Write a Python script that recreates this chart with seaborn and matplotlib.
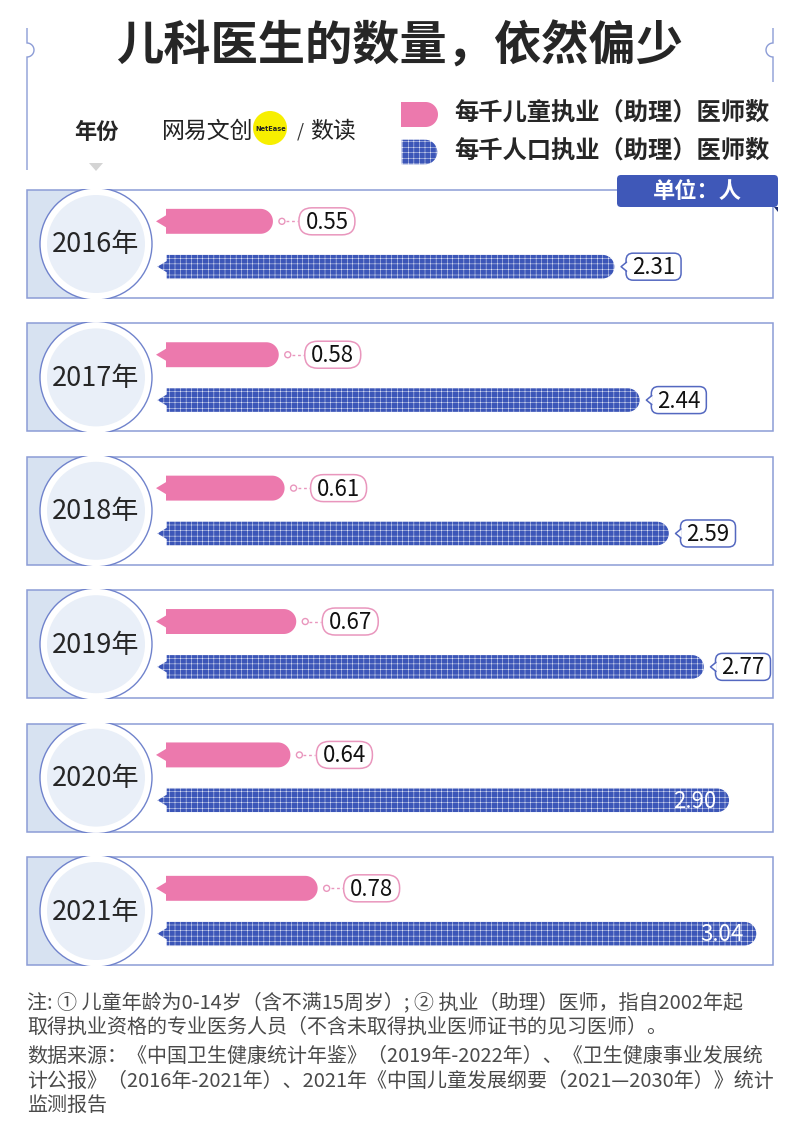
import numpy as np
import pandas as pd
import matplotlib.pyplot as plt
import seaborn as sns
from matplotlib.patches import Polygon, Rectangle, Circle, FancyBboxPatch, PathPatch
from matplotlib.path import Path


years = ['2016年', '2017年', '2018年', '2019年', '2020年', '2021年']
child_doctors = [0.55, 0.58, 0.61, 0.67, 0.64, 0.78]
all_doctors = [2.31, 2.44, 2.59, 2.77, 2.90, 3.04]
series_names = ['每千儿童执业（助理）医师数', '每千人口执业（助理）医师数']

title = '儿科医生的数量，依然偏少'
unit_text = '单位：人'
notes = ['注: ① 儿童年龄为0-14岁（含不满15周岁）; ② 执业（助理）医师，指自2002年起',
         '取得执业资格的专业医务人员（不含未取得执业医师证书的见习医师）。',
         '数据来源：《中国卫生健康统计年鉴》（2019年-2022年）、《卫生健康事业发展统',
         '计公报》（2016年-2021年）、2021年《中国儿童发展纲要（2021—2030年）》统计',
         '监测报告']
note_y = [1003, 1027, 1056, 1081, 1105]

sns.set_style('white')
plt.rcParams['font.family'] = ['Noto Sans CJK SC', 'DejaVu Sans']
plt.rcParams['hatch.color'] = '#8094e0'
plt.rcParams['hatch.linewidth'] = 0.3

PINK = '#ec79ad'
PINK_EDGE = '#e996bd'
BLUE = '#3c56b8'
BLUE_EDGE = '#5468c0'
LINE = '#8c9cd6'

fig = plt.figure(figsize=(8, 11.4), dpi=100)
bg = fig.add_axes([0, 0, 1, 1])
bg.set_xlim(0, 800)
bg.set_ylim(1140, 0)
bg.axis('off')

# bar axes: value 0 at x=166px, 1 unit = 194.4px, one year per 133.4px
x0_px, unit_px, xmax = 166, 194.4, 3.2
top_px, step_px = 177.3, 133.4
ax = fig.add_axes([x0_px / 800, 1 - (top_px + 6 * step_px) / 1140,
                   xmax * unit_px / 800, 6 * step_px / 1140])
ax.patch.set_alpha(0)

df = pd.DataFrame({'year': years * 2,
                   'value': child_doctors + all_doctors,
                   'series': [series_names[0]] * 6 + [series_names[1]] * 6})
sns.barplot(data=df, x='value', y='year', hue='series', orient='h',
            palette=[PINK, BLUE], width=0.68, gap=0.45, errorbar=None,
            legend=False, ax=ax)
ax.set_xlim(0, xmax)
ax.set_ylim(5.5, -0.5)
ax.axis('off')


def to_px(x, y):
    return bg.transData.inverted().transform(ax.transData.transform((x, y)))


def bar_shape(x0, x1, y0, y1, pointer=True):
    r = (y1 - y0) / 2
    yc = (y0 + y1) / 2
    t = np.linspace(-np.pi / 2, np.pi / 2, 40)
    pts = [(x0, y0)] + [(x1 - r + r * np.cos(a), yc + r * np.sin(a)) for a in t] + [(x0, y1)]
    if pointer:
        pts += [(x0, yc + 6), (x0 - 10, yc), (x0, yc - 6)]
    return pts


# title and side brackets
bg.text(400, 47, title, ha='center', va='center', fontsize=34, fontweight='bold')
for xs, sgn, ybot in [(27, 1, 170), (773, -1, 82)]:
    verts = [(xs, 28), (xs, 43)]
    t = np.linspace(-np.pi / 2, np.pi / 2, 20)
    verts += [(xs + sgn * 7 * np.cos(a), 50 + 7 * np.sin(a)) for a in t]
    verts += [(xs, 57), (xs, ybot)]
    bg.add_patch(PathPatch(Path(verts), fc='none', ec=LINE, lw=1.0))

# header: year label + logo
bg.text(96, 132, '年份', ha='center', va='center', fontsize=16, fontweight='bold')
bg.add_patch(Polygon([(89, 163), (103, 163), (96, 171)], fc='#d4d4d4', ec='none'))
bg.text(162, 131, '网易文创', ha='left', va='center', fontsize=16.5, color='#222222')
bg.add_patch(Circle((270, 128), 17, fc='#f7ef00', ec='none'))
bg.text(271, 129, 'NetEase', ha='center', va='center', fontsize=4.8,
        fontweight='bold', family='DejaVu Sans', color='#222222')
bg.text(300, 131, '/', ha='center', va='center', fontsize=13, color='#333333')
bg.text(310, 131, '数读', ha='left', va='center', fontsize=16.5, color='#222222')

# legend
bg.add_patch(Polygon(bar_shape(401, 438, 102, 127, pointer=False), fc=PINK, ec='none'))
bg.add_patch(Polygon(bar_shape(401, 438, 139, 165, pointer=False), fc=BLUE, hatch='+++'))
bg.text(454, 114, series_names[0], ha='left', va='center', fontsize=17.5, fontweight='bold')
bg.text(454, 152, series_names[1], ha='left', va='center', fontsize=17.5, fontweight='bold')

# year panels
for i, yr in enumerate(years):
    _, yc = to_px(0, i)
    top = yc - 54
    panel = Rectangle((27, top), 746, 108, fc='white', ec='none', zorder=1)
    bg.add_patch(panel)
    bg.add_patch(Rectangle((27, top), 69, 108, fc='#d7e2f1', ec='none', zorder=1.5))
    bg.add_patch(Rectangle((27, top), 746, 108, fc='none', ec=LINE, lw=1.1, zorder=2))
    clip = Rectangle((26, top - 1), 748, 110, transform=bg.transData)
    outer = Circle((96, yc), 56, fc='white', ec='#7083cc', lw=1.0, zorder=3)
    bg.add_patch(outer)
    outer.set_clip_path(clip)
    inner = Circle((96, yc), 49, fc='#e9eff8', ec='none', zorder=3.5)
    bg.add_patch(inner)
    bg.text(96, yc + 1, yr, ha='center', va='center', fontsize=19.5, zorder=4)

# unit tag
bg.add_patch(FancyBboxPatch((617, 175), 161, 32, boxstyle='round,pad=0,rounding_size=4',
                            fc='#3f58b8', ec='none', zorder=5))
bg.add_patch(Polygon([(774, 207), (778, 207), (778, 212)], fc='#1d2d70', ec='none', zorder=5))
bg.text(697, 191, unit_text, ha='center', va='center', fontsize=16, fontweight='bold',
        color='white', zorder=6)

# bars redrawn with rounded ends, labels beside them
for bar in ax.patches:
    w = bar.get_width()
    cy = bar.get_y() + bar.get_height() / 2
    if np.isnan(w) or w == 0:
        continue
    bar.set_visible(False)
    is_child = cy < round(cy)
    (px0, py_a), (px1, py_b) = to_px(0, bar.get_y()), to_px(w, bar.get_y() + bar.get_height())
    y0, y1 = min(py_a, py_b), max(py_a, py_b)
    yc = (y0 + y1) / 2
    txt = f'{w:.2f}'
    if is_child:
        ax.add_patch(Polygon(bar_shape(px0, px1, y0, y1), fc=PINK, ec='none',
                             transform=bg.transData, clip_on=False))
        ax.add_patch(Circle((px1 + 9, yc), 3, fc='white', ec=PINK_EDGE, lw=1.0,
                            transform=bg.transData, clip_on=False))
        ax.plot([px1 + 13, px1 + 25], [yc, yc], ls=(0, (2, 2)), color=PINK_EDGE, lw=1.0,
                transform=bg.transData, clip_on=False)
        ax.add_patch(FancyBboxPatch((px1 + 26, yc - 13.5), 56, 27,
                                    boxstyle='round,pad=0,rounding_size=13',
                                    fc='white', ec=PINK_EDGE, lw=1.1,
                                    transform=bg.transData, clip_on=False))
        ax.text(px1 + 54, yc + 1, txt, ha='center', va='center', fontsize=16,
                color='#111111', transform=bg.transData, clip_on=False)
    else:
        ax.add_patch(Polygon(bar_shape(px0, px1, y0, y1), fc=BLUE, hatch='+++',
                             transform=bg.transData, clip_on=False))
        if px1 + 66 > 773:
            ax.text(px1 - 13, yc + 1, txt, ha='right', va='center', fontsize=16,
                    color='white', transform=bg.transData, clip_on=False, zorder=5)
        else:
            bx = px1 + 11
            ax.add_patch(FancyBboxPatch((bx, yc - 13.5), 55, 27,
                                        boxstyle='round,pad=0,rounding_size=7',
                                        fc='white', ec=BLUE_EDGE, lw=1.1,
                                        transform=bg.transData, clip_on=False))
            ax.add_patch(Polygon([(bx + 1, yc - 4.5), (bx - 5, yc), (bx + 1, yc + 4.5)],
                                 fc='white', ec='none', transform=bg.transData, clip_on=False))
            ax.plot([bx + 0.5, bx - 5, bx + 0.5], [yc - 4.5, yc, yc + 4.5], color=BLUE_EDGE,
                    lw=1.1, transform=bg.transData, clip_on=False)
            ax.text(bx + 27.5, yc + 1, txt, ha='center', va='center', fontsize=16,
                    color='#111111', transform=bg.transData, clip_on=False)

# footnotes
for line, y in zip(notes, note_y):
    bg.text(27, y, line, ha='left', va='center', fontsize=14.4, color='#4a4a4a')

plt.savefig('out.png', dpi=100)
